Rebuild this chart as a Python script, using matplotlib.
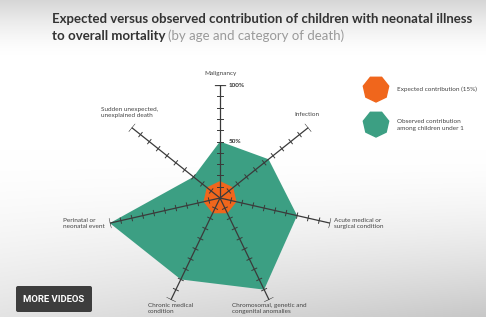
import numpy as np
import matplotlib
matplotlib.use("Agg")
import matplotlib.pyplot as plt
from matplotlib.patches import FancyBboxPatch, RegularPolygon

categories = ["Malignancy", "Infection", "Acute medical or\nsurgical condition",
              "Chromosomal, genetic and\ncongenital anomalies", "Chronic medical\ncondition",
              "Perinatal or\nneonatal event", "Sudden unexpected,\nunexplained death"]
observed = [50, 55, 70, 90, 80, 100, 30]
expected = [15, 15, 15, 15, 15, 15, 15]
tick_values = [10, 20, 30, 40, 50, 60, 70, 80, 90]
labelled_ticks = {100: "100%", 50: "50%"}

W, H = 486, 317
fig = plt.figure(figsize=(W / 100, H / 100), dpi=100)

# background
bg = fig.add_axes([0, 0, 1, 1])
bg.set_xlim(0, W); bg.set_ylim(H, 0); bg.axis("off")
yy, xx = np.mgrid[0:H, 0:W]
top = np.clip((55 - yy) / 55, 0, 1) ** 1.5
bot = np.clip((yy - 150) / 167, 0, 1) ** 1.6 * (0.5 + 0.5 * xx / W)
val = 1 - 0.16 * top - 0.22 * bot
img = np.dstack([val, val, val])
bg.imshow(img, extent=[0, W, H, 0], aspect="auto", zorder=0)

# title
tcol = "#333333"
tsize = 9.55
t1 = bg.text(52, 23, "Expected versus observed contribution of children with neonatal illness",
             fontsize=tsize, fontweight="bold", color=tcol, family="Lato", va="baseline")
t2 = bg.text(52, 40, "to overall mortality", fontsize=tsize, fontweight="bold", color=tcol,
             family="Lato", va="baseline")
fig.canvas.draw()
bb = t2.get_window_extent()
x_end = bg.transData.inverted().transform((bb.x1, bb.y0))[0]
bg.text(x_end + 3, 40, "(by age and category of death)", fontsize=tsize, color="#9a9a9a",
        family="Lato", va="baseline")

# radar
cx, cy, R = 220, 198, 113
ax = fig.add_axes([(cx - R) / W, (H - cy - R) / H, 2 * R / W, 2 * R / H], projection="polar")
ax.set_theta_offset(np.pi / 2)
ax.set_theta_direction(-1)
ax.set_ylim(0, 100)
ax.axis("off")
ax.patch.set_alpha(0)

n = len(categories)
theta = np.arange(n) * 2 * np.pi / n
green = "#3c9f83"
orange = "#f0661c"
ax.fill(np.append(theta, theta[0]), np.append(observed, observed[0]), color=green, lw=0, zorder=2)
ax.fill(np.append(theta, theta[0]), np.append(expected, expected[0]), color=orange, lw=0, zorder=3)

lc = "#3a3a3a"
def perp(th, r, half):
    d = np.arctan2(half, r)
    rr = np.hypot(r, half)
    return [th - d, th + d], [rr, rr]

for th in theta:
    ax.plot([th, th], [0, 100], color=lc, lw=0.9, zorder=4)
    for v in tick_values:
        a, b = perp(th, v, 2.4)
        ax.plot(a, b, color=lc, lw=0.7, zorder=4)
    a, b = perp(th, 100, 4.0)
    ax.plot(a, b, color=lc, lw=0.9, zorder=4)

for v, s in labelled_ticks.items():
    ax.annotate(s, xy=(0, v), xytext=(6, 0), textcoords="offset points", fontsize=4.6,
                fontweight="bold", color=tcol, family="Lato", va="center", ha="left")

# category labels (pixel positions of text anchors)
lab_style = dict(fontsize=4.6, color="#444444", family="Lato", linespacing=1.3)
label_pos = [(220, 73, "center", "center"), (307, 114, "center", "center"),
             (334, 218, "left", "top"), (232, 303, "left", "top"),
             (148, 303, "left", "top"), (63, 218, "left", "top"),
             (101, 107, "left", "top")]
for name, (x, y, ha, va) in zip(categories, label_pos):
    bg.text(x, y, name, ha=ha, va=va, **lab_style, zorder=5)

# legend
bg.add_patch(RegularPolygon((376, 89), 7, radius=13, color=orange, zorder=5))
bg.add_patch(RegularPolygon((376, 124), 7, radius=13, color=green, zorder=5))
bg.text(397, 89, "Expected contribution (15%)", va="center", ha="left", **lab_style)
bg.text(397, 125, "Observed contribution\namong children under 1", va="center", ha="left",
        **lab_style)

# button overlay
bg.add_patch(FancyBboxPatch((16, 286), 76, 26, boxstyle="round,pad=0,rounding_size=2",
                            fc="#3d3d3d", ec="none", zorder=6))
bg.text(54, 299, "MORE VIDEOS", color="white", fontsize=6.8, fontweight="bold",
        family="Roboto", ha="center", va="center", zorder=7)

fig.savefig("out.png", dpi=100)
